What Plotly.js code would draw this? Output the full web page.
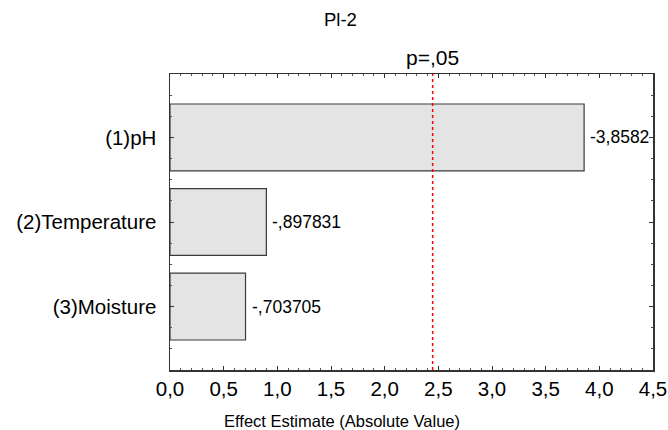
<!DOCTYPE html>
<html>
<head>
<meta charset="utf-8">
<script src="https://cdn.plot.ly/plotly-3.0.1.min.js"></script>
<style>html,body{margin:0;padding:0;background:#fff;}#chart{width:668px;height:430px;}</style>
</head>
<body>
<div id="chart"></div>
<script>
const categories = ["(1)pH", "(2)Temperature", "(3)Moisture"];
const effects = [3.8582, 0.897831, 0.703705];
const effectLabels = ["-3,8582", "-,897831", "-,703705"];
const pCritical = 2.446912;
const xTickVals = [0, 0.5, 1, 1.5, 2, 2.5, 3, 3.5, 4, 4.5];
const xTickText = ["0,0", "0,5", "1,0", "1,5", "2,0", "2,5", "3,0", "3,5", "4,0", "4,5"];

const positions = categories.map((c, i) => i);
const fontFam = "Liberation Sans, Arial, sans-serif";

const trace = {
  type: "bar",
  orientation: "h",
  x: effects,
  y: positions,
  width: 0.79,
  marker: {color: "#e4e4e4", line: {color: "#3a3a3a", width: 1.2}},
  hoverinfo: "skip"
};

const valueAnnotations = effects.map((v, i) => ({
  text: effectLabels[i], xref: "x", yref: "y", x: v, y: positions[i],
  xanchor: "left", yanchor: "middle", xshift: 4, showarrow: false,
  font: {size: 17.5, color: "#000"}
}));

const layout = {
  width: 668, height: 430,
  margin: {l: 170, r: 15, t: 74, b: 60},
  paper_bgcolor: "#fff", plot_bgcolor: "#fff",
  showlegend: false,
  font: {family: fontFam, color: "#000"},
  xaxis: {
    range: [0, 4.5],
    tickvals: xTickVals, ticktext: xTickText,
    tickfont: {size: 20.5},
    ticks: "inside", ticklen: 4, tickcolor: "#333", tickwidth: 1,
    minor: {dtick: 0.1, ticks: "inside", ticklen: 2, tickcolor: "#555"},
    showline: true, linecolor: "#333", linewidth: 1.5, mirror: "ticks",
    showgrid: false, zeroline: false, fixedrange: true
  },
  yaxis: {
    range: [2.75, -0.75],
    tickvals: positions, ticktext: categories,
    tickfont: {size: 20.5},
    ticks: "inside", ticklen: 4, tickcolor: "#333", tickwidth: 1,
    minor: {dtick: 0.25, tick0: 0, ticks: "inside", ticklen: 2, tickcolor: "#555"},
    ticklabelstandoff: 8,
    showline: true, linecolor: "#333", linewidth: 1.5, mirror: "ticks",
    showgrid: false, zeroline: false, fixedrange: true
  },
  shapes: [{
    type: "line", xref: "x", yref: "paper",
    x0: pCritical, x1: pCritical, y0: 0, y1: 1,
    line: {color: "#ff0000", width: 1.5, dash: "dot"}
  }],
  annotations: [
    {text: "Pl-2", xref: "paper", yref: "paper", x: 0.352, y: 1.0, yshift: 55,
     xanchor: "center", yanchor: "middle", showarrow: false, font: {size: 18.5}},
    {text: "p=,05", xref: "x", yref: "paper", x: pCritical, y: 1, yshift: 17,
     xanchor: "center", yanchor: "middle", showarrow: false, font: {size: 21}},
    {text: "Effect Estimate (Absolute Value)", xref: "paper", yref: "paper",
     x: 0.356, y: 0, yshift: -51, xanchor: "center", yanchor: "middle",
     showarrow: false, font: {size: 16.5}}
  ].concat(valueAnnotations)
};

Plotly.newPlot("chart", [trace], layout, {displayModeBar: false, staticPlot: true});
</script>
</body>
</html>
